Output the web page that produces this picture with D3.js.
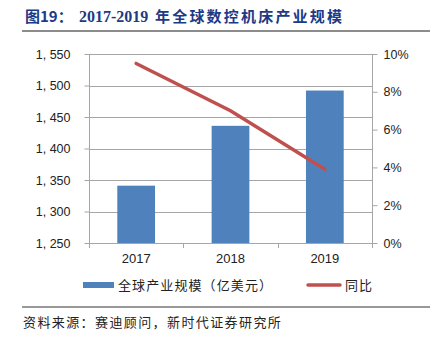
<!DOCTYPE html>
<html><head><meta charset="utf-8">
<script src="https://cdn.jsdelivr.net/npm/d3@7"></script>
<style>body{margin:0;background:#fff}svg{display:block}</style>
</head><body>
<svg id="c" width="435" height="337"></svg>
<script>
const categories = ["2017", "2018", "2019"];
const scaleValues = [1341, 1436, 1492];
const growthValues = [9.5, 7.0, 3.9];
const leftTicks = [1250, 1300, 1350, 1400, 1450, 1500, 1550];
const rightTicks = [0, 2, 4, 6, 8, 10];
const titleText = ["图19：", "2017-2019", "年全球数控机床产业规模"];
const legendLabels = ["全球产业规模（亿美元）", "同比"];
const sourceText = "资料来源：赛迪顾问，新时代证券研究所";

const svg = d3.select("#c");
const L = 89, R = 372, T = 54, B = 243;
const x = d3.scaleBand().domain(categories).range([L, R]).paddingInner(0).paddingOuter(0);
const yL = d3.scaleLinear().domain([1250, 1550]).range([B, T]);
const yR = d3.scaleLinear().domain([0, 10]).range([B, T]);

// title
const tt = svg.append("text").attr("y", 22).attr("fill", "#1c3a86").attr("font-weight", "bold");
tt.append("tspan").attr("x", 25).attr("font-family", "Noto Sans CJK SC").attr("font-size", 15).text(titleText[0]);
tt.append("tspan").attr("x", 79).attr("font-family", "Liberation Serif").attr("font-size", 16).text(titleText[1]);
tt.append("tspan").attr("x", 155).attr("font-family", "Noto Sans CJK SC").attr("font-size", 15).attr("letter-spacing", 2.2).text(titleText[2]);
svg.append("line").attr("x1", 22).attr("x2", 430).attr("y1", 31).attr("y2", 31).attr("stroke", "#666").attr("stroke-width", 1.5);

// gridlines
svg.append("g").selectAll("line").data(leftTicks.slice(1)).join("line")
  .attr("x1", L).attr("x2", R).attr("y1", d => Math.round(yL(d)) + 0.5).attr("y2", d => Math.round(yL(d)) + 0.5)
  .attr("stroke", "#a6a6a6").attr("stroke-width", 1);

// bars
const bw = x.bandwidth() * 0.4;
svg.append("g").selectAll("rect").data(scaleValues).join("rect")
  .attr("x", (d, i) => x(categories[i]) + (x.bandwidth() - bw) / 2)
  .attr("width", bw)
  .attr("y", d => yL(d)).attr("height", d => B - yL(d))
  .attr("fill", "#4f81bd");

// axes
const axL = svg.append("g").attr("transform", `translate(${L + 0.5},0)`)
  .call(d3.axisLeft(yL).tickValues(leftTicks).tickSize(5).tickPadding(14).tickFormat(d => d3.format(",")(d).replace(",", ", ")));
const axR = svg.append("g").attr("transform", `translate(${R + 0.5},0)`)
  .call(d3.axisRight(yR).tickValues(rightTicks).tickSize(5).tickPadding(6).tickFormat(d => d + "%"));
const axB = svg.append("g").attr("transform", `translate(0,${B + 0.5})`)
  .call(d3.axisBottom(x).tickSize(0).tickPadding(10));
// bottom tick marks at band boundaries
svg.append("g").selectAll("line").data([L, x("2018"), x("2019"), R]).join("line")
  .attr("x1", d => Math.round(d) + 0.5).attr("x2", d => Math.round(d) + 0.5)
  .attr("y1", B).attr("y2", B + 5).attr("stroke", "#a6a6a6");
[axL, axR, axB].forEach(a => {
  a.selectAll("path").attr("stroke", "#a6a6a6");
  a.selectAll("line").attr("stroke", "#a6a6a6");
  a.selectAll("text").attr("font-family", "Liberation Sans, Arial").attr("font-size", 12.5).attr("fill", "#222");
});
axB.selectAll("text").attr("font-size", 13);
axL.select(".domain").attr("d", `M0,${T}V${B}`);
axR.select(".domain").attr("d", `M0,${T}V${B}`);
axB.select(".domain").attr("d", `M${L},0H${R + 0.5}`);

// line
const line = d3.line().x((d, i) => x(categories[i]) + x.bandwidth() / 2).y(d => yR(d));
svg.append("path").datum(growthValues).attr("d", line)
  .attr("fill", "none").attr("stroke", "#c0504d").attr("stroke-width", 3.5).attr("stroke-linecap", "round");

// legend
svg.append("rect").attr("x", 83).attr("y", 282).attr("width", 31).attr("height", 6).attr("fill", "#4f81bd");
svg.append("text").attr("x", 118).attr("y", 290).attr("font-family", "Noto Sans CJK SC").attr("font-size", 13)
  .attr("fill", "#222").attr("letter-spacing", 1.1).text(legendLabels[0]);
svg.append("line").attr("x1", 308).attr("x2", 340).attr("y1", 285).attr("y2", 285)
  .attr("stroke", "#c0504d").attr("stroke-width", 3.5).attr("stroke-linecap", "round");
svg.append("text").attr("x", 345).attr("y", 290).attr("font-family", "Noto Sans CJK SC").attr("font-size", 13)
  .attr("fill", "#222").attr("letter-spacing", 1).text(legendLabels[1]);

// source
svg.append("line").attr("x1", 22).attr("x2", 430).attr("y1", 307).attr("y2", 307).attr("stroke", "#333").attr("stroke-width", 1);
svg.append("text").attr("x", 23).attr("y", 327).attr("font-family", "Noto Sans CJK SC").attr("font-size", 13)
  .attr("fill", "#222").attr("letter-spacing", 1.4).text(sourceText);
</script>
</body></html>
